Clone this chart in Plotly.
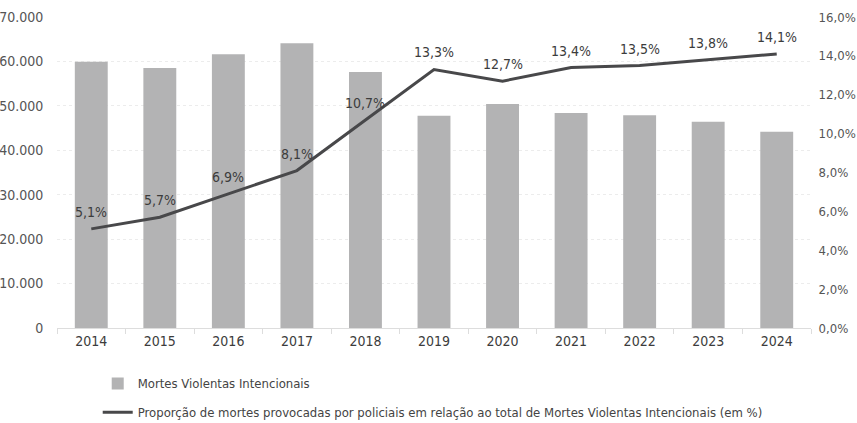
import plotly.graph_objects as go

years = ["2014", "2015", "2016", "2017", "2018", "2019", "2020", "2021", "2022", "2023", "2024"]
mvi = [59900, 58500, 61600, 64100, 57600, 47800, 50400, 48400, 47900, 46400, 44200]
prop = [5.1, 5.7, 6.9, 8.1, 10.7, 13.3, 12.7, 13.4, 13.5, 13.8, 14.1]
prop_labels = ["5,1%", "5,7%", "6,9%", "8,1%", "10,7%", "13,3%", "12,7%", "13,4%", "13,5%", "13,8%", "14,1%"]

FONT = "DejaVu Sans Condensed, Liberation Sans Narrow, sans-serif"

fig = go.Figure()
fig.add_trace(go.Bar(
    x=years, y=mvi, name="Mortes Violentas Intencionais",
    marker=dict(color="#b3b3b4", line=dict(width=0)),
    hoverinfo="skip", legendgroup="a",
))
fig.add_trace(go.Scatter(
    x=years, y=prop, yaxis="y2", mode="lines",
    name="Proporção de mortes provocadas por policiais em relação ao total de Mortes Violentas Intencionais (em %)",
    line=dict(color="#48484a", width=3),
    legendgroup="b",
))

for i, (yv, lab) in enumerate(zip(prop, prop_labels)):
    fig.add_annotation(
        x=i, xref="x", y=yv, yref="y2", text=lab, showarrow=False,
        yshift=17, font=dict(size=14, color="#3c3c3c", family=FONT),
    )

fig.update_layout(
    width=857, height=423,
    margin=dict(l=57, r=46, t=17, b=95, autoexpand=False),
    plot_bgcolor="white", paper_bgcolor="white",
    separators=",.",
    bargap=0.52,
    font=dict(family=FONT, color="#555555", size=14),
    showlegend=True,
    legend=dict(
        orientation="v", x=0.054, xanchor="left", y=-0.13, yanchor="top",
        font=dict(size=13, color="#444444", family=FONT),
        traceorder="grouped", tracegroupgap=9,
        bgcolor="rgba(0,0,0,0)",
    ),
    xaxis=dict(
        type="category", range=[-0.5, len(years) - 0.5],
        showgrid=False, showline=True, linecolor="#dddddd",
        ticks="outside", tickson="boundaries", ticklen=5, tickcolor="#dddddd",
        tickangle=0,
        tickfont=dict(size=14, color="#3c3c3c", family=FONT), automargin=False,
    ),
    yaxis=dict(
        range=[0, 70000], dtick=10000, tickformat=",d",
        showgrid=True, gridcolor="#ececec", griddash="dot", zeroline=False,
        tickfont=dict(size=14, color="#555555", family=FONT),
        ticks="outside", ticklen=10, tickcolor="white", automargin=False,
    ),
    yaxis2=dict(
        range=[0, 16], dtick=2, tickformat=".1f", ticksuffix="%",
        overlaying="y", side="right", showgrid=False, zeroline=False,
        tickfont=dict(size=13, color="#555555", family=FONT),
        ticks="outside", ticklen=4, tickcolor="white", automargin=False,
    ),
)

fig.write_html(
    "out.html",
    config={"displayModeBar": False},
    post_script="document.body.style.margin='0';document.body.style.padding='0';",
)
